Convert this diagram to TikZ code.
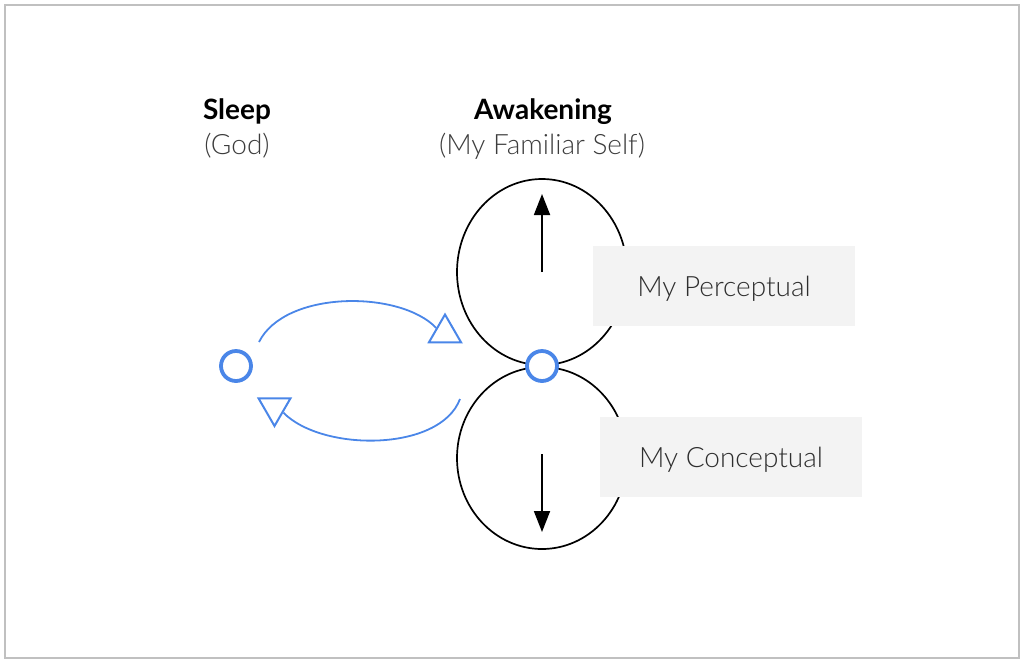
\documentclass[tikz,border=0pt]{standalone}
\usepackage{fontspec}
\setmainfont{Lato}[UprightFont=* Light, BoldFont=* Bold]
\usetikzlibrary{arrows.meta,shapes.geometric,calc}
\definecolor{gblue}{HTML}{4A86E8}
\definecolor{boxgray}{HTML}{F3F3F3}
\definecolor{framegray}{HTML}{C0C0C0}
\definecolor{txt}{HTML}{2E2E2E}
\definecolor{subtxt}{HTML}{3C3C3C}
\begin{document}
\begin{tikzpicture}[x=1pt,y=-1pt,
  lobe/.style={draw=black,line width=1.7pt},
  labelbox/.style={fill=boxgray,minimum width=262pt,minimum height=80pt,inner sep=0pt,text depth=0pt,font=\fontsize{28}{33}\selectfont,text=txt},
  hub/.style={circle,draw=gblue,line width=3.8pt,fill=white,minimum size=30pt,inner sep=0pt},
  tri/.style={regular polygon,regular polygon sides=3,draw=gblue,line width=2pt,fill=white,minimum size=37pt,inner sep=0pt},
  flow/.style={draw=gblue,line width=1.8pt},
  vec/.style={draw=black,line width=1.8pt,-{Triangle[width=16pt,length=21pt]}},
  title/.style={font=\fontsize{28}{33}\selectfont\bfseries,text=black,anchor=base},
  subtitle/.style={font=\fontsize{28}{33}\selectfont,text=subtxt,anchor=base}]
\useasboundingbox (0,0) rectangle (1024,665);
\draw[framegray,line width=2pt] (5,5) rectangle (1019,658);

% titles
\node[title] (sleep) at (237,119) {Sleep};
\node[subtitle] (god) at (237,154) {(God)};
\node[title] (awake) at (543,119) {Awakening};
\node[subtitle] (self) at (542,154) {(My Familiar Self)};

% lobes
\draw[lobe] (542,272) ellipse [x radius=85, y radius=93];
\draw[lobe] (542,458) ellipse [x radius=85, y radius=91];

% vertical arrows
\coordinate (upS) at (542,272);
\coordinate (upE) at (542,194);
\coordinate (dnS) at (542,454);
\coordinate (dnE) at (542,532);
\draw[vec] (upS) -- (upE);
\draw[vec] (dnS) -- (dnE);

% label boxes
\node[labelbox] (perc) at (724,286) {My Perceptual};
\node[labelbox] (conc) at (731,457) {My Conceptual};

% hubs
\node[hub] (left) at (236,366) {};
\node[hub] (center) at (542,366) {};

% triangles
\node[tri] (triU) at (445,333) {};
\node[tri,shape border rotate=180] (triD) at (274.5,407.5) {};

% flows
\coordinate (fS) at (259,342);
\coordinate (bS) at (460,399);
\draw[flow] (fS) .. controls (285,290) and (400,290) .. ($(triU.corner 1)!0.5!(triU.corner 2)$);
\draw[flow] (bS) .. controls (440,452) and (322,452) .. ($(triD.corner 1)!0.5!(triD.corner 2)$);
\end{tikzpicture}
\end{document}
